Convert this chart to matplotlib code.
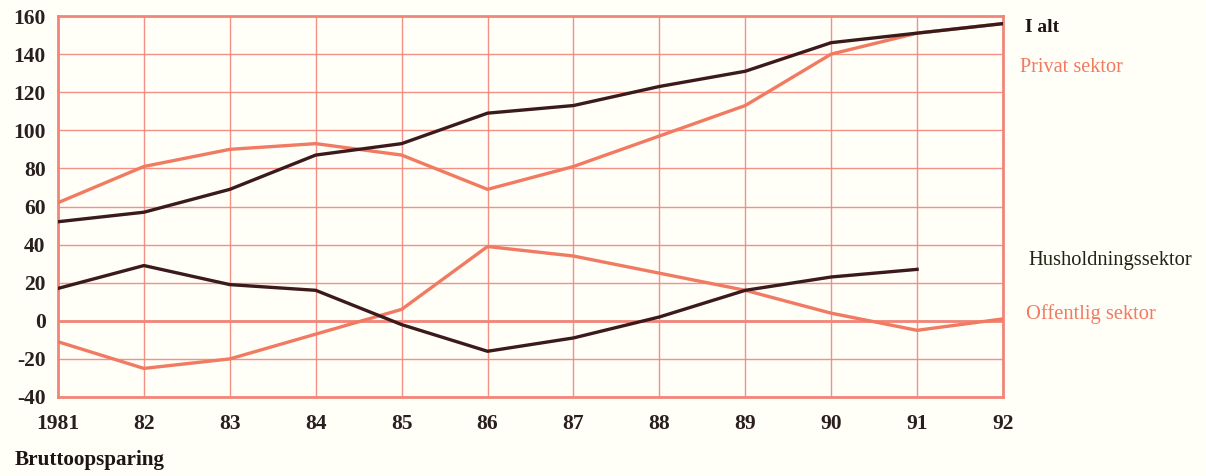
import matplotlib
matplotlib.use("Agg")
import matplotlib.pyplot as plt

years = [1981, 1982, 1983, 1984, 1985, 1986, 1987, 1988, 1989, 1990, 1991, 1992]
xlabels = ["1981", "82", "83", "84", "85", "86", "87", "88", "89", "90", "91", "92"]
i_alt = [52, 57, 69, 87, 93, 109, 113, 123, 131, 146, 151, 156]
privat = [62, 81, 90, 93, 87, 69, 81, 97, 113, 140, 151, 156]
hushold_years = years[:11]
hushold = [17, 29, 19, 16, -2, -16, -9, 2, 16, 23, 27]
offentlig = [-11, -25, -20, -7, 6, 39, 34, 25, 16, 4, -5, 1]
yticks = [-40, -20, 0, 20, 40, 60, 80, 100, 120, 140, 160]

bg = "#fffef7"
grid_c = "#f2857a"
dark = "#3b1a1c"
salmon = "#f07a62"

plt.rcParams['font.family'] = ['Liberation Serif', 'DejaVu Serif']

fig = plt.figure(figsize=(12.06, 4.76), dpi=100, facecolor=bg)
ax = fig.add_axes([58/1206, 1-397/476, (1003-58)/1206, (397-16)/476])
ax.set_facecolor(bg)

ax.set_xlim(1981, 1992)
ax.set_ylim(-40, 160)
ax.set_xticks(years)
ax.set_xticklabels(xlabels)
ax.set_yticks(yticks)
ax.set_yticklabels([str(v) for v in yticks])
ax.tick_params(length=0, labelsize=15.5)
ax.tick_params(axis='x', pad=12)
ax.tick_params(axis='y', pad=9)
for lab in ax.get_xticklabels() + ax.get_yticklabels():
    lab.set_fontweight('semibold')
    lab.set_color("#2a1f1f")

ax.grid(True, color=grid_c, linewidth=1.0, alpha=0.9)
ax.axhline(0, color=grid_c, linewidth=2.0, zorder=1)
for s in ax.spines.values():
    s.set_color(grid_c)
    s.set_linewidth(2.0)

ax.plot(years, privat, color=salmon, linewidth=2.4, zorder=3)
ax.plot(years, i_alt, color=dark, linewidth=2.4, zorder=4)
ax.plot(years, offentlig, color=salmon, linewidth=2.4, zorder=3)
ax.plot(hushold_years, hushold, color=dark, linewidth=2.4, zorder=4)

fig.text(1025/1206, 1-27/476, "I alt", fontsize=14, fontweight='bold', color="#1e1414", va='center', ha='left')
fig.text(1020/1206, 1-67/476, "Privat sektor", fontsize=14.6, color=salmon, va='center', ha='left')
fig.text(1028/1206, 1-260/476, "Husholdningssektor", fontsize=14.8, color="#1f2414", va='center', ha='left')
fig.text(1026/1206, 1-314/476, "Offentlig sektor", fontsize=14.8, color=salmon, va='center', ha='left')
fig.text(15/1206, 1-460/476, "Bruttoopsparing", fontsize=15.2, fontweight='bold', color="#1e1414", va='center', ha='left')

fig.savefig("out.png", dpi=100, facecolor=bg)
